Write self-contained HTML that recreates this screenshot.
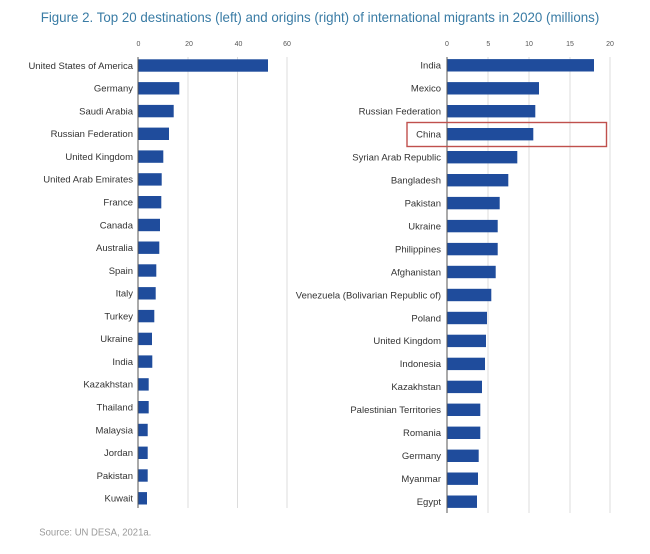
<!DOCTYPE html>
<html><head><meta charset="utf-8"><style>
html,body{margin:0;padding:0;background:#fff;}
svg{display:block;font-family:"Liberation Sans",sans-serif;}
</style></head><body>
<svg width="650" height="554" viewBox="0 0 650 554" xmlns="http://www.w3.org/2000/svg">
<rect width="650" height="554" fill="#fff"/>
<text x="40.7" y="22" font-size="14" fill="#3a7ca5" textLength="558.6" lengthAdjust="spacingAndGlyphs">Figure 2. Top 20 destinations (left) and origins (right) of international migrants in 2020 (millions)</text>

<!-- left grid -->
<g stroke="#dcdcdc" stroke-width="1">
<line x1="188" y1="57" x2="188" y2="508"/>
<line x1="237.5" y1="57" x2="237.5" y2="508"/>
<line x1="287" y1="57" x2="287" y2="508"/>
<line x1="488" y1="57" x2="488" y2="513"/>
<line x1="529" y1="57" x2="529" y2="513"/>
<line x1="570" y1="57" x2="570" y2="513"/>
<line x1="610" y1="57" x2="610" y2="513"/>
</g>
<g font-size="7" fill="#555" text-anchor="middle">
<text x="138.5" y="46">0</text><text x="189" y="46">20</text><text x="238.5" y="46">40</text><text x="287" y="46">60</text>
<text x="447" y="46">0</text><text x="488.3" y="46">5</text><text x="529" y="46">10</text><text x="570" y="46">15</text><text x="610" y="46">20</text>
</g>

<g fill="#1f4c9c">
<rect x="138" y="59.3" width="130" height="12.4"/>
<rect x="138" y="82.1" width="41.3" height="12.4"/>
<rect x="138" y="104.9" width="35.7" height="12.4"/>
<rect x="138" y="127.6" width="31" height="12.4"/>
<rect x="138" y="150.4" width="25.3" height="12.4"/>
<rect x="138" y="173.2" width="23.7" height="12.4"/>
<rect x="138" y="196" width="23.3" height="12.4"/>
<rect x="138" y="218.8" width="22" height="12.4"/>
<rect x="138" y="241.5" width="21.3" height="12.4"/>
<rect x="138" y="264.3" width="18.3" height="12.4"/>
<rect x="138" y="287.1" width="17.7" height="12.4"/>
<rect x="138" y="309.9" width="16.3" height="12.4"/>
<rect x="138" y="332.7" width="14" height="12.4"/>
<rect x="138" y="355.4" width="14.3" height="12.4"/>
<rect x="138" y="378.2" width="10.7" height="12.4"/>
<rect x="138" y="401" width="10.7" height="12.4"/>
<rect x="138" y="423.8" width="9.7" height="12.4"/>
<rect x="138" y="446.6" width="9.7" height="12.4"/>
<rect x="138" y="469.3" width="9.7" height="12.4"/>
<rect x="138" y="492.1" width="9" height="12.4"/>

<rect x="447" y="59.1" width="147" height="12.4"/>
<rect x="447" y="82.1" width="92" height="12.4"/>
<rect x="447" y="105" width="88.3" height="12.4"/>
<rect x="447" y="128" width="86.3" height="12.4"/>
<rect x="447" y="151" width="70.3" height="12.4"/>
<rect x="447" y="174" width="61.3" height="12.4"/>
<rect x="447" y="196.9" width="52.7" height="12.4"/>
<rect x="447" y="219.9" width="50.7" height="12.4"/>
<rect x="447" y="242.9" width="50.7" height="12.4"/>
<rect x="447" y="265.8" width="48.7" height="12.4"/>
<rect x="447" y="288.8" width="44.3" height="12.4"/>
<rect x="447" y="311.8" width="40" height="12.4"/>
<rect x="447" y="334.7" width="39" height="12.4"/>
<rect x="447" y="357.7" width="38" height="12.4"/>
<rect x="447" y="380.7" width="35" height="12.4"/>
<rect x="447" y="403.6" width="33.3" height="12.4"/>
<rect x="447" y="426.6" width="33.3" height="12.4"/>
<rect x="447" y="449.6" width="31.7" height="12.4"/>
<rect x="447" y="472.5" width="31" height="12.4"/>
<rect x="447" y="495.5" width="30" height="12.4"/>
</g>

<g stroke="#555" stroke-width="1">
<line x1="138" y1="57" x2="138" y2="508"/>
<line x1="447" y1="57" x2="447" y2="513"/>
</g>

<g font-size="9.5" fill="#333" text-anchor="end">
<text x="133" y="68.8">United States of America</text>
<text x="133" y="91.6">Germany</text>
<text x="133" y="114.4">Saudi Arabia</text>
<text x="133" y="137.1">Russian Federation</text>
<text x="133" y="159.9">United Kingdom</text>
<text x="133" y="182.7">United Arab Emirates</text>
<text x="133" y="205.5">France</text>
<text x="133" y="228.3">Canada</text>
<text x="133" y="251">Australia</text>
<text x="133" y="273.8">Spain</text>
<text x="133" y="296.6">Italy</text>
<text x="133" y="319.4">Turkey</text>
<text x="133" y="342.2">Ukraine</text>
<text x="133" y="364.9">India</text>
<text x="133" y="387.7">Kazakhstan</text>
<text x="133" y="410.5">Thailand</text>
<text x="133" y="433.3">Malaysia</text>
<text x="133" y="456.1">Jordan</text>
<text x="133" y="478.8">Pakistan</text>
<text x="133" y="501.6">Kuwait</text>

<text x="441" y="68.6">India</text>
<text x="441" y="91.6">Mexico</text>
<text x="441" y="114.5">Russian Federation</text>
<text x="441" y="137.5">China</text>
<text x="441" y="160.5">Syrian Arab Republic</text>
<text x="441" y="183.5">Bangladesh</text>
<text x="441" y="206.4">Pakistan</text>
<text x="441" y="229.4">Ukraine</text>
<text x="441" y="252.4">Philippines</text>
<text x="441" y="275.3">Afghanistan</text>
<text x="441" y="298.3">Venezuela (Bolivarian Republic of)</text>
<text x="441" y="321.3">Poland</text>
<text x="441" y="344.2">United Kingdom</text>
<text x="441" y="367.2">Indonesia</text>
<text x="441" y="390.2">Kazakhstan</text>
<text x="441" y="413.1">Palestinian Territories</text>
<text x="441" y="436.1">Romania</text>
<text x="441" y="459.1">Germany</text>
<text x="441" y="482">Myanmar</text>
<text x="441" y="505">Egypt</text>
</g>

<rect x="407" y="122.5" width="199.5" height="24" fill="none" stroke="#c0504d" stroke-width="1.4"/>

<text x="39.3" y="535.5" font-size="10" fill="#9a9a9a" textLength="112" lengthAdjust="spacingAndGlyphs">Source: UN DESA, 2021a.</text>
</svg>
</body></html>
